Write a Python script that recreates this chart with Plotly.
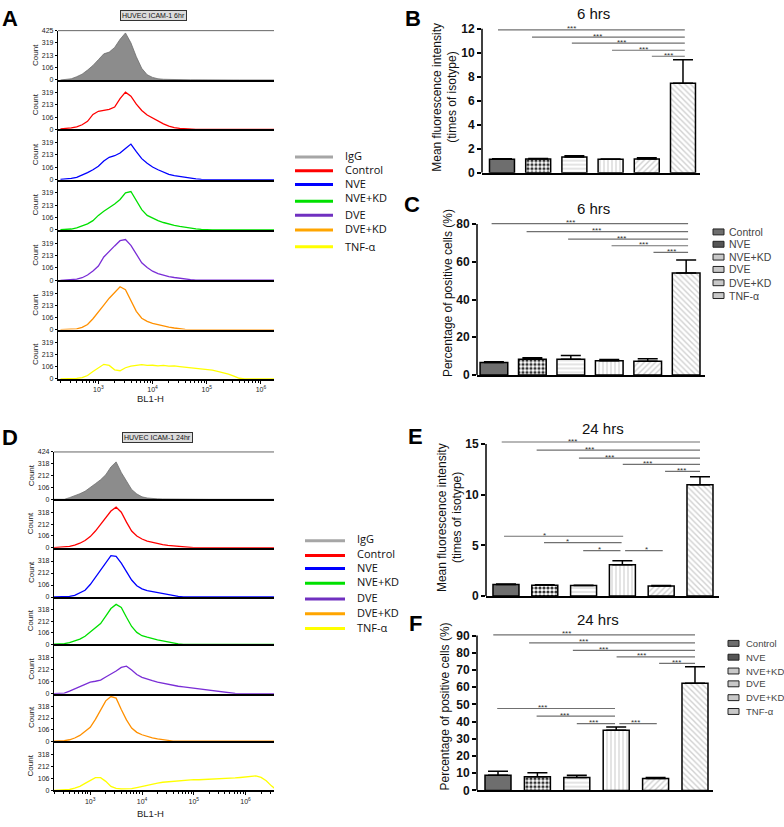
import numpy as np
import plotly.graph_objects as go

W, H = 784, 827
FONT = "Liberation Sans, Arial, sans-serif"
LEG_FONT = "Open Sans, Noto Sans, sans-serif"

# ---------------- data: flow histograms (log10 of BL1-H vs count) ----------------
BINS = [2.3, 2.4, 2.5, 2.6, 2.7, 2.8, 2.9, 3.0, 3.1, 3.2, 3.3, 3.4, 3.5, 3.6, 3.7, 3.8, 3.9,
        4.0, 4.1, 4.2, 4.3, 4.4, 4.5, 4.6, 4.7, 4.8, 4.9, 5.0, 5.1, 5.2, 5.3, 5.4, 5.5, 5.6,
        5.7, 5.8, 5.9, 6.0, 6.1, 6.2, 6.3, 6.4, 6.5, 6.6]
GROUPS = ["IgG", "Control", "NVE", "NVE+KD", "DVE", "DVE+KD", "TNF-α"]

IGG_6H = [0, 3, 10, 28, 50, 85, 125, 175, 225, 240, 280, 350, 405, 320, 200, 100, 45,
          22, 10, 6, 4, 3, 2, 2, 1, 1, 0]
CONTROL_6H = [3, 6, 12, 22, 40, 70, 130, 158, 168, 175, 195, 268, 325, 290, 220, 165, 125,
              100, 70, 48, 28, 14, 8, 4, 1, 0]
NVE_6H = [2, 5, 10, 20, 38, 60, 85, 115, 160, 192, 205, 228, 268, 305, 240, 180, 140,
          108, 85, 62, 46, 34, 26, 18, 12, 7, 3, 0]
NVE_KD_6H = [2, 4, 8, 18, 32, 52, 80, 125, 160, 188, 222, 262, 318, 330, 255, 175, 125,
             100, 80, 64, 50, 40, 30, 22, 15, 10, 5, 1, 0]
DVE_6H = [0, 2, 5, 10, 22, 45, 80, 122, 200, 250, 295, 340, 350, 300, 220, 150, 110,
          78, 58, 42, 32, 24, 16, 10, 5, 1, 0]
DVE_KD_6H = [0, 1, 3, 6, 20, 45, 95, 150, 215, 275, 325, 375, 350, 256, 160, 100, 72,
             55, 42, 30, 22, 14, 7, 2, 0]
TNF_6H = [0, 1, 3, 5, 12, 30, 65, 100, 128, 118, 80, 72, 98, 112, 122, 126, 118,
          120, 115, 118, 112, 114, 108, 104, 100, 96, 92, 86, 78, 66, 55, 42, 25, 6, 0]

IGG_24H = [0, 0, 0, 15, 30, 50, 72, 110, 140, 175, 220, 290, 335, 240, 160, 88, 48,
           22, 12, 6, 4, 3, 2, 1, 0]
CONTROL_24H = [1, 3, 6, 12, 24, 40, 65, 100, 150, 210, 270, 330, 365, 320, 230, 150, 105,
               78, 60, 48, 38, 28, 20, 15, 9, 4, 0]
NVE_24H = [0, 1, 3, 6, 14, 35, 60, 110, 175, 245, 310, 365, 360, 300, 225, 150, 100,
           72, 57, 48, 42, 36, 28, 14, 6, 2, 0]
NVE_KD_24H = [2, 4, 7, 15, 30, 48, 75, 114, 155, 192, 260, 330, 368, 340, 250, 165, 110,
              80, 66, 52, 42, 32, 22, 12, 4, 0]
DVE_24H = [1, 3, 6, 22, 42, 63, 88, 102, 110, 120, 148, 172, 200, 232, 243, 210, 170,
           145, 128, 115, 102, 92, 82, 73, 66, 60, 54, 48, 42, 36, 30, 24, 17, 10, 5, 2, 0]
DVE_KD_24H = [0, 1, 4, 12, 28, 52, 85, 126, 200, 290, 370, 410, 395, 290, 195, 120, 80,
              58, 42, 30, 21, 12, 5, 0]
TNF_24H = [0, 2, 4, 8, 20, 36, 62, 88, 112, 112, 80, 35, 18, 14, 12, 15, 25,
           36, 44, 54, 64, 72, 76, 80, 84, 90, 92, 95, 94, 96, 95, 97, 98, 100,
           104, 110, 114, 118, 125, 128, 115, 85, 40, 5]

HIST_6H = [IGG_6H, CONTROL_6H, NVE_6H, NVE_KD_6H, DVE_6H, DVE_KD_6H, TNF_6H]
HIST_24H = [IGG_24H, CONTROL_24H, NVE_24H, NVE_KD_24H, DVE_24H, DVE_KD_24H, TNF_24H]
HIST_COLORS = ["#7f7f7f", "#ff0000", "#0000ff", "#00e000", "#7a2ed6", "#ff9000", "#ffff00"]
LEGEND_COLORS = ["#a6a6a6", "#ff0000", "#0000ff", "#00e000", "#7030c0", "#ffa500", "#ffff00"]

# ---------------- data: bar charts ----------------
CATS = ["Control", "NVE", "NVE+KD", "DVE", "DVE+KD", "TNF-α"]
MFI_6H = [1.12, 1.15, 1.3, 1.12, 1.15, 7.45]
MFI_6H_ERR = [0.04, 0.03, 0.12, 0.03, 0.1, 1.95]
POS_6H = [6.6, 8.4, 8.4, 7.5, 7.3, 54.0]
POS_6H_ERR = [0.4, 0.8, 2.0, 0.7, 1.3, 7.0]
MFI_24H = [1.14, 1.07, 1.04, 3.08, 1.0, 10.97]
MFI_24H_ERR = [0.05, 0.03, 0.03, 0.4, 0.03, 0.8]
POS_24H = [8.8, 7.9, 7.45, 35.0, 6.9, 62.3]
POS_24H_ERR = [2.3, 2.4, 1.35, 1.9, 0.6, 9.5]

# significance brackets: (y, from, to, star position, label)
SIG_B = [(11.9, -0.11, 5.05, 1.93, "***"), (11.3, 0.83, 5.05, 2.65, "***"),
         (10.8, 1.93, 5.05, 3.31, "***"), (10.2, 3.04, 5.05, 3.9, "***"),
         (9.7, 4.14, 5.05, 4.59, "***")]
SIG_C = [(80.2, -0.06, 5.05, 1.98, "***"), (76.0, 0.85, 5.05, 2.67, "***"),
         (72.0, 1.93, 5.05, 3.33, "***"), (68.5, 3.06, 5.05, 3.89, "***"),
         (65.0, 4.15, 5.05, 4.61, "***")]
SIG_E = [(15.2, -0.11, 5.0, 1.72, "***"), (14.4, 0.79, 5.0, 2.15, "***"),
         (13.6, 1.88, 5.0, 2.68, "***"), (13.0, 3.01, 5.0, 3.64, "***"),
         (12.3, 4.10, 5.0, 4.53, "***"),
         (5.9, -0.05, 3.02, 1.0, "*"), (5.26, 0.98, 2.98, 1.58, "*"),
         (4.48, 1.99, 2.95, 2.42, "*"), (4.48, 3.07, 4.04, 3.63, "*")]
SIG_F = [(90.4, -0.12, 5.0, 1.73, "***"), (85.8, 0.79, 5.0, 2.17, "***"),
         (81.4, 1.9, 5.0, 2.69, "***"), (77.6, 3.01, 5.0, 3.65, "***"),
         (73.8, 4.09, 5.0, 4.54, "***"),
         (47.6, -0.02, 2.97, 1.13, "***"), (43.2, 0.98, 2.97, 1.70, "***"),
         (38.8, 2.0, 2.97, 2.42, "***"), (38.8, 3.08, 4.03, 3.48, "***")]

# ---------------- styles ----------------
BAR_FILL = ["#6e6e6e", "#333333", "#d8d8d8", "#d8d8d8", "#d0d0d0", "#d0d0d0"]
BAR_PATTERN = ["", ".", "-", "|", "/", "\\"]
BAR_FG = ["#6e6e6e", "#ffffff", "#8a8a8a", "#8a8a8a", "#a8a8a8", "#a8a8a8"]
BAR_SOLID = [0.3, 0.5, 0.35, 0.35, 0.35, 0.35]
SWATCH = ["#6e6e6e", "#555555", "#c8c8c8", "#c8c8c8", "#c8c8c8", "#c8c8c8"]

fig = go.Figure()
layout = dict(width=W, height=H, margin=dict(l=0, r=0, t=0, b=0),
              paper_bgcolor="white", plot_bgcolor="white", showlegend=False)
shapes, anns = [], []
counter = [0]


def fx(p):
    return p / W


def fy(p):
    return 1 - p / H


def add_axes(x0, x1, ytop, ybot, xa, ya):
    counter[0] += 1
    i = counter[0]
    s = "" if i == 1 else str(i)
    layout["xaxis" + s] = dict(xa, domain=[fx(x0), fx(x1)], anchor="y" + s)
    layout["yaxis" + s] = dict(ya, domain=[fy(ybot), fy(ytop)], anchor="x" + s)
    return "x" + s, "y" + s


def text(x, y, s, size, color="#111", family=FONT, **kw):
    d = dict(x=fx(x), y=fy(y), xref="paper", yref="paper", text=s, showarrow=False,
             font=dict(size=size, color=color, family=family), xanchor="center", yanchor="middle")
    d.update(kw)
    anns.append(d)


MINOR = [float(np.log10(k)) + d for d in range(2, 7) for k in range(2, 10)]


def hist_stack(edges, x0, x1, xr, series, top_max, ticks, others_max):
    n = len(series)
    for j, vals in enumerate(series):
        last = j == n - 1
        xa = dict(range=xr, showgrid=False, zeroline=False, showline=True, linecolor="black",
                  linewidth=2, ticks="outside" if last else "", ticklen=3, tickcolor="black",
                  tickvals=[3, 4, 5, 6],
                  ticktext=["10<sup>3</sup>", "10<sup>4</sup>", "10<sup>5</sup>", "10<sup>6</sup>"],
                  showticklabels=last, tickfont=dict(size=7, family=FONT, color="#222"),
                  minor=dict(tickvals=MINOR, ticks="outside" if last else "", ticklen=2,
                             tickcolor="black"))
        ymax = top_max if j == 0 else others_max
        tv = ticks + ([top_max] if j == 0 else [])
        ya = dict(range=[0, ymax], showgrid=False, zeroline=False, showline=True,
                  linecolor="black", linewidth=1.2, ticks="outside", ticklen=2,
                  tickcolor="black", tickvals=tv,
                  tickfont=dict(size=7, family=FONT, color="#222"),
                  title=dict(text="Count", font=dict(size=8, family=FONT, color="#222"),
                             standoff=2))
        xn, yn = add_axes(x0, x1, edges[j], edges[j + 1], xa, ya)
        y = list(vals) + [0] * (len(BINS) - len(vals))
        if j == 0:
            fig.add_trace(go.Scatter(x=BINS, y=y, xaxis=xn, yaxis=yn, mode="lines",
                                     line=dict(color="#6f6f6f", width=0.8),
                                     fill="tozeroy", fillcolor="#8c8c8c", name=GROUPS[j]))
        else:
            fig.add_trace(go.Scatter(x=BINS, y=y, xaxis=xn, yaxis=yn, mode="lines",
                                     line=dict(color=HIST_COLORS[j], width=1.3), name=GROUPS[j]))
    shapes.append(dict(type="line", xref="paper", yref="paper", x0=fx(x0), x1=fx(x1),
                       y0=fy(edges[0]), y1=fy(edges[0]), line=dict(color="#666", width=1)))


def line_legend(x0, x1, xt, ys, yt):
    for g, c, y, ty in zip(GROUPS, LEGEND_COLORS, ys, yt):
        shapes.append(dict(type="line", xref="paper", yref="paper", x0=fx(x0), x1=fx(x1),
                           y0=fy(y), y1=fy(y), line=dict(color=c, width=3)))
        text(xt, ty, g, 11, "#111", LEG_FONT, xanchor="left")


def bar_panel(x0, x1, ytop, ybot, xr, yr, axis_top, tickvals, vals, errs, width, sigs):
    xa = dict(type="category", range=xr, showgrid=False, zeroline=False, showline=True,
              linecolor="black", linewidth=2, ticks="", showticklabels=False)
    ya = dict(range=yr, showgrid=False, zeroline=False, showline=False, ticks="outside",
              ticklen=4, tickwidth=1.5, tickcolor="black", tickvals=tickvals,
              ticktext=["<b>%g</b>" % v for v in tickvals],
              tickfont=dict(size=12, family=FONT, color="#111"))
    xn, yn = add_axes(x0, x1, ytop, ybot, xa, ya)
    fig.add_trace(go.Bar(
        x=CATS, y=vals, xaxis=xn, yaxis=yn, width=width,
        marker=dict(color=BAR_FILL, line=dict(color="black", width=1.5),
                    pattern=dict(shape=BAR_PATTERN, fgcolor=BAR_FG, bgcolor=BAR_FILL,
                                 size=4, solidity=BAR_SOLID, fillmode="replace")),
        error_y=dict(type="data", array=errs, arrayminus=[0] * len(errs), symmetric=False,
                     color="black", thickness=1.5, width=10)))
    shapes.append(dict(type="line", xref=xn + " domain", yref=yn, x0=0, x1=0, y0=0,
                       y1=axis_top, line=dict(color="black", width=1.5)))
    for (y, a, b, sx, lab) in sigs:
        shapes.append(dict(type="line", xref=xn, yref=yn, x0=a, x1=b, y0=y, y1=y,
                           line=dict(color="#707070", width=1.2)))
        anns.append(dict(x=sx, y=y, xref=xn, yref=yn, text=lab, showarrow=False,
                         font=dict(size=8, family=FONT, color="#333"),
                         xanchor="center", yanchor="middle", yshift=1))


def box_legend(xs, xt, ys, size):
    for c, s, y in zip(CATS, SWATCH, ys):
        shapes.append(dict(type="rect", xref="paper", yref="paper", x0=fx(xs), x1=fx(xs + 11),
                           y0=fy(y + 3), y1=fy(y - 3), fillcolor=s,
                           line=dict(color="#222", width=1)))
        text(xt, y, c, size, "#444", FONT, xanchor="left")


# ---------------- panel A ----------------
hist_stack([27, 77, 127, 178, 229, 280, 330, 380], 58, 274, [2.255, 6.24], HIST_6H,
           425, [0, 106, 213, 319], 432)
text(153, 12, "HUVEC ICAM-1 6hr", 7, "#111", FONT, bgcolor="#dcdcdc", bordercolor="#333",
     borderwidth=1, borderpad=1)
text(150, 400, "BL1-H", 9.5, "#222")
line_legend(295, 333, 343, [155, 169, 183, 200, 214, 229, 246],
            [154, 168, 182, 196, 213, 228, 246])

# ---------------- panel D ----------------
hist_stack([454, 502, 551, 601, 649, 699, 747, 797], 54, 274, [2.30, 6.55], HIST_24H,
           424, [0, 106, 212, 318], 436)
text(157, 439, "HUVEC ICAM-1 24hr", 7, "#111", FONT, bgcolor="#dcdcdc", bordercolor="#333",
     borderwidth=1, borderpad=1)
text(150, 820, "BL1-H", 9.5, "#222")
line_legend(305, 345, 355, [544, 559, 572, 587, 603, 618, 633],
            [542, 557, 571, 585, 602, 617, 632])

# ---------------- panel B ----------------
bar_panel(482, 700, 18.9, 171, [-0.552, 5.47], [0, 12.5], 12, [0, 2, 4, 6, 8, 10, 12],
          MFI_6H, MFI_6H_ERR, 0.69, SIG_B)
text(593, 10, "6 hrs", 15)
text(437, 95, "Mean fluorescence intensity", 12, textangle=-90)
text(452, 95, "(times of isotype)", 12, textangle=-90)

# ---------------- panel C ----------------
bar_panel(477, 705, 217.3, 376, [-0.44, 5.49], [0, 83], 80, [0, 20, 40, 60, 80],
          POS_6H, POS_6H_ERR, 0.72, SIG_C)
text(593, 207, "6 hrs", 15)
text(448, 293, "Percentage of positive cells (%)", 12, textangle=-90)
box_legend(713, 727, [231, 243.5, 256.5, 269, 282.5, 295.5], 10.5)

# ---------------- panel E ----------------
bar_panel(486, 719, 439.8, 600, [-0.515, 5.49], [0, 15.6], 15, [0, 5, 10, 15],
          MFI_24H, MFI_24H_ERR, 0.67, SIG_E)
text(603, 430, "24 hrs", 15)
text(442, 521, "Mean fluorescence intensity", 12, textangle=-90)
text(457, 521, "(times of isotype)", 12, textangle=-90)

# ---------------- panel F ----------------
bar_panel(477, 713, 633.1, 797, [-0.533, 5.457], [0, 94], 90,
          [0, 10, 20, 30, 40, 50, 60, 70, 80, 90], POS_24H, POS_24H_ERR, 0.66, SIG_F)
text(598, 624, "24 hrs", 15)
text(445, 712, "Percentage of positive cells (%)", 12, textangle=-90)
box_legend(728, 744, [648, 662, 676, 689, 703, 717], 9.5)

# ---------------- panel letters ----------------
for lab, x, y in [("A", 10, 15), ("B", 413, 15), ("C", 412, 203), ("D", 10, 439),
                  ("E", 415, 438), ("F", 415, 628)]:
    text(x, y, "<b>" + lab + "</b>", 22, "#000")

layout["shapes"] = shapes
layout["annotations"] = anns
fig.update_layout(**layout)
fig.write_html("out.html", config={"displayModeBar": False},
               post_script="document.body.style.margin='0px';"
                           "document.body.style.padding='0px';"
                           "document.body.style.overflow='hidden';")
